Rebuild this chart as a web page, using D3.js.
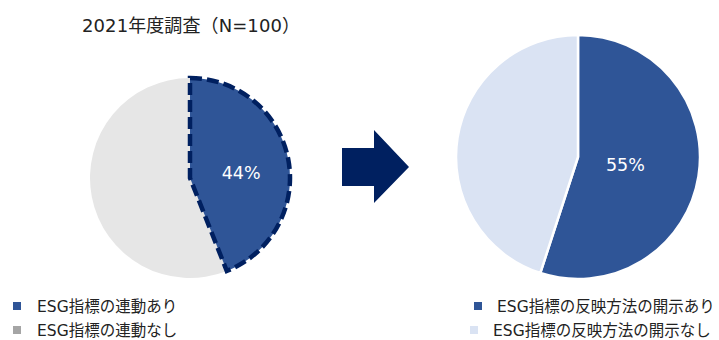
<!DOCTYPE html>
<html>
<head>
<meta charset="utf-8">
<script src="https://cdn.jsdelivr.net/npm/d3@7"></script>
<style>
  body { margin: 0; background: #fff; }
  text { font-family: "DejaVu Sans", "Noto Sans CJK JP", sans-serif; }
</style>
</head>
<body>
<div id="chart"></div>
<script>

// data
var title = "2021年度調査（N=100）";
var leftLabels = ["ESG指標の連動あり", "ESG指標の連動なし"];
var leftValues = [44, 56];
var rightLabels = ["ESG指標の反映方法の開示あり", "ESG指標の反映方法の開示なし"];
var rightValues = [55, 45];

var width = 719, height = 340;

var svg = d3.select("#chart")
  .append("svg")
    .attr("width", width)
    .attr("height", height);

// title
svg.append("text")
    .attr("x", 82)
    .attr("y", 32)
    .attr("font-size", 18)
    .attr("textLength", 218)
    .attr("fill", "#222")
    .text(title);

var pie = d3.pie().sort(null).value(function(d) { return d; });

// left pie
var leftG = svg.append("g").attr("transform", "translate(190,178)");
var leftArc = d3.arc().innerRadius(0).outerRadius(100);
var leftColors = ["#2F5597", "#E6E6E6"];
var leftData = pie(leftValues);

// grey slice first, highlighted slice on top
leftG.selectAll("path.slice")
  .data(leftData.slice().reverse())
  .enter().append("path")
    .attr("class", "slice")
    .attr("d", leftArc)
    .attr("fill", function(d) { return leftColors[d.index]; })
    .attr("stroke", function(d) { return d.index == 0 ? "#002060" : "none"; })
    .attr("stroke-width", 4.5)
    .attr("stroke-dasharray", function(d) { return d.index == 0 ? "12,5" : null; });

var leftLabelArc = d3.arc().innerRadius(0).outerRadius(104);
leftG.append("text")
    .attr("transform", "translate(" + leftLabelArc.centroid(leftData[0]) + ")")
    .attr("dy", "0.35em")
    .attr("y", 5)
    .attr("text-anchor", "middle")
    .attr("font-size", 17.5)
    .attr("fill", "#fff")
    .text(leftValues[0] + "%");

// arrow
var arrowPts = [[342,148],[374,148],[374,130],[409,167],[374,203],[374,186],[342,186]];
svg.append("path")
    .attr("d", d3.line()(arrowPts) + "Z")
    .attr("fill", "#002060");

// right pie
var rightG = svg.append("g").attr("transform", "translate(578,157)");
var rightArc = d3.arc().innerRadius(0).outerRadius(122);
var rightColors = ["#2F5597", "#DAE3F3"];
var rightData = pie(rightValues);

rightG.selectAll("path.slice")
  .data(rightData)
  .enter().append("path")
    .attr("class", "slice")
    .attr("d", rightArc)
    .attr("fill", function(d) { return rightColors[d.index]; })
    .attr("stroke", "#fff")
    .attr("stroke-width", 2.5);

var rightLabelArc = d3.arc().innerRadius(0).outerRadius(96);
rightG.append("text")
    .attr("transform", "translate(" + rightLabelArc.centroid(rightData[0]) + ")")
    .attr("dy", "0.35em")
    .attr("text-anchor", "middle")
    .attr("font-size", 17.5)
    .attr("fill", "#fff")
    .text(rightValues[0] + "%");

// legends
var leftLegendColors = ["#2F5597", "#A5A5A5"];
var leftLegend = svg.selectAll("g.lleg")
  .data(leftLabels)
  .enter().append("g")
    .attr("class", "lleg")
    .attr("transform", function(d, i) { return "translate(13," + (302 + i * 24) + ")"; });
leftLegend.append("rect")
    .attr("width", 8).attr("height", 8)
    .attr("fill", function(d, i) { return leftLegendColors[i]; });
leftLegend.append("text")
    .attr("x", 24)
    .attr("y", 10)
    .attr("font-size", 15.5)
    .attr("fill", "#222")
    .text(function(d) { return d; });

var rightLegend = svg.selectAll("g.rleg")
  .data(rightLabels)
  .enter().append("g")
    .attr("class", "rleg")
    .attr("transform", function(d, i) { return "translate(" + (474 - i * 4) + "," + (302 + i * 24) + ")"; });
rightLegend.append("rect")
    .attr("width", 8).attr("height", 8)
    .attr("fill", function(d, i) { return rightColors[i]; });
rightLegend.append("text")
    .attr("x", 23)
    .attr("y", 10)
    .attr("font-size", 15.5)
    .attr("fill", "#222")
    .text(function(d) { return d; });

</script>
</body>
</html>
